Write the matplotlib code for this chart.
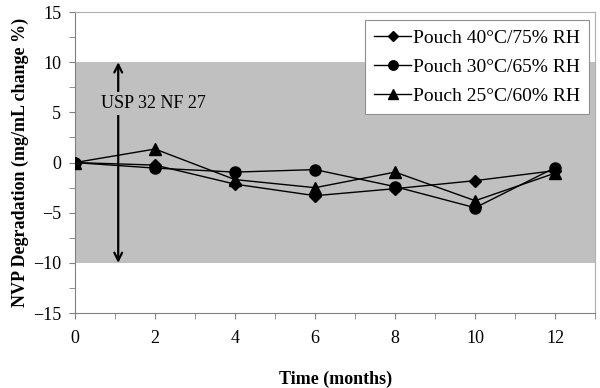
import matplotlib

matplotlib.use("Agg")
import matplotlib.pyplot as plt

# data
months = [0, 2, 4, 6, 8, 10, 12]
pouch_40_75 = [0.0, -0.25, -2.15, -3.3, -2.6, -1.8, -0.8]
pouch_30_65 = [0.0, -0.55, -0.95, -0.7, -2.4, -4.5, -0.5]
pouch_25_60 = [0.0, 1.35, -1.7, -2.5, -0.95, -3.8, -1.05]
series_labels = ["Pouch 40°C/75% RH", "Pouch 30°C/65% RH", "Pouch 25°C/60% RH"]
markers = ["D", "o", "^"]
usp_limits = [-10, 10]
usp_label = "USP 32 NF 27"

plt.rcParams["font.family"] = ["Liberation Serif", "DejaVu Serif"]

fig = plt.figure(figsize=(6.0, 3.88), dpi=100)
ax = fig.add_axes([0.125, 0.193, 0.867, 0.776])

ax.axhspan(usp_limits[0], usp_limits[1], color="#c0c0c0", zorder=0, lw=0)

sizes = [6, 8, 8]
for vals, lab, m, s in zip([pouch_40_75, pouch_30_65, pouch_25_60], series_labels, markers, sizes):
    ax.plot(months, vals, color="black", lw=1.0, marker=m, ms=s, label=lab, zorder=3)

# USP limit arrow
ax.annotate("", xy=(1.08, usp_limits[0]), xytext=(1.08, usp_limits[1]),
            arrowprops=dict(arrowstyle="<->", color="black", lw=1.6,
                            mutation_scale=14, shrinkA=0, shrinkB=0), zorder=4)
ax.text(1.95, 5.9, usp_label, ha="center", va="center", fontsize=13, zorder=5,
        bbox=dict(facecolor="#c0c0c0", edgecolor="none", pad=2))

ax.set_xlim(0, 13)
ax.set_ylim(-15, 15)
ax.set_xticks(range(0, 13, 2))
ax.set_xticks(range(0, 14), minor=True)
ax.set_yticks(range(-15, 16, 5))
ax.set_yticks([v * 2.5 for v in range(-6, 7)], minor=True)
ax.tick_params(axis="both", which="both", direction="out", length=4, color="#808080",
               labelsize=13, pad=6)
ax.tick_params(axis="x", which="both", pad=8)

for side in ["left", "bottom"]:
    ax.spines[side].set_color("#808080")
for side in ["top", "right"]:
    ax.spines[side].set_color("#b0b0b0")

ax.set_xlabel("Time (months)", fontsize=13, fontweight="bold", labelpad=17)
ax.set_ylabel("NVP Degradation (mg/mL change %)", fontsize=13, fontweight="bold", labelpad=3)

leg = ax.legend(loc="upper right", bbox_to_anchor=(0.988, 0.973), fontsize=14, frameon=True,
                fancybox=False, edgecolor="#909090", framealpha=1, handlelength=1.9,
                handletextpad=0.1, labelspacing=0.6, borderpad=0.45, borderaxespad=0,
                markerscale=0.85)
leg.get_frame().set_linewidth(0.8)

fig.savefig("out.png", dpi=100)
